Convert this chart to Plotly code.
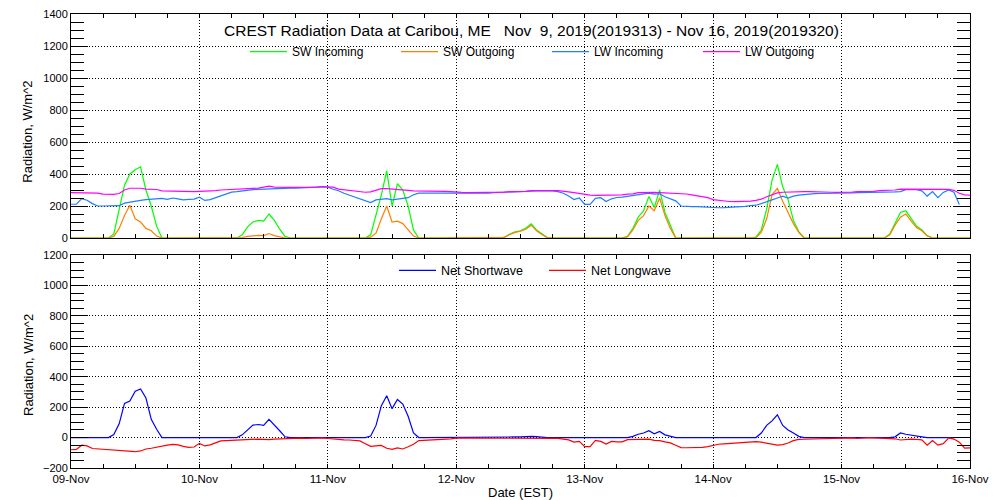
import plotly.graph_objects as go

# ---------------- data (hourly, 2019-11-09 00:00 .. 2019-11-16 00:00 EST) ----------------
start_day = 9
n_hours = 169
times = [f"2019-11-{start_day + h // 24:02d} {h % 24:02d}:00" for h in range(n_hours)]

day_ticks = ["2019-11-09", "2019-11-10", "2019-11-11", "2019-11-12",
             "2019-11-13", "2019-11-14", "2019-11-15", "2019-11-16"]
day_labels = ["09-Nov", "10-Nov", "11-Nov", "12-Nov", "13-Nov", "14-Nov", "15-Nov", "16-Nov"]

sw_incoming = (
    [0, 0, 0, 0, 0, 0, 0, 0, 25, 170, 330, 400, 427, 445, 300, 200, 74, 0, 0, 0, 0, 0, 0, 0]
    + [0, 0, 0, 0, 0, 0, 0, 0, 20, 70, 100, 110, 105, 150, 110, 55, 10, 0, 0, 0, 0, 0, 0, 0]
    + [0, 0, 0, 0, 0, 0, 0, 0, 20, 140, 270, 420, 200, 340, 300, 200, 50, 0, 0, 0, 0, 0, 0, 0]
    + [0, 0, 0, 0, 0, 0, 0, 0, 0, 5, 25, 38, 45, 62, 88, 50, 25, 3, 0, 0, 0, 0, 0, 0]
    + [0, 0, 0, 0, 0, 0, 0, 0, 10, 60, 130, 170, 260, 190, 300, 160, 80, 0, 0, 0, 0, 0, 0, 0]
    + [0, 0, 0, 0, 0, 0, 0, 0, 5, 50, 180, 360, 460, 320, 240, 110, 40, 0, 0, 0, 0, 0, 0, 0]
    + [0, 0, 0, 0, 0, 0, 0, 0, 0, 25, 90, 160, 170, 120, 75, 50, 15, 0, 0, 0, 0, 0, 0, 0]
    + [0]
)

sw_outgoing = (
    [0, 0, 0, 0, 0, 0, 0, 0, 10, 60, 140, 205, 120, 100, 60, 45, 12, 0, 0, 0, 0, 0, 0, 0]
    + [0, 0, 0, 0, 0, 0, 0, 0, 3, 10, 15, 16, 15, 28, 15, 8, 0, 0, 0, 0, 0, 0, 0, 0]
    + [0, 0, 0, 0, 0, 0, 0, 0, 5, 30, 120, 200, 100, 105, 90, 50, 12, 0, 0, 0, 0, 0, 0, 0]
    + [0, 0, 0, 0, 0, 0, 0, 0, 0, 4, 22, 35, 42, 55, 80, 45, 22, 2, 0, 0, 0, 0, 0, 0]
    + [0, 0, 0, 0, 0, 0, 0, 0, 8, 50, 110, 140, 200, 170, 250, 140, 60, 0, 0, 0, 0, 0, 0, 0]
    + [0, 0, 0, 0, 0, 0, 0, 0, 2, 35, 120, 270, 310, 230, 160, 90, 35, 0, 0, 0, 0, 0, 0, 0]
    + [0, 0, 0, 0, 0, 0, 0, 0, 0, 20, 80, 130, 150, 105, 65, 45, 12, 0, 0, 0, 0, 0, 0, 0]
    + [0]
)

lw_incoming = (
    [211, 211, 246, 236, 215, 200, 200, 200, 200, 202, 218, 225, 232, 235, 240, 243, 246, 248, 242, 250, 245, 238, 242, 243]
    + [255, 235, 240, 252, 262, 275, 287, 290, 295, 298, 302, 304, 306, 308, 310, 310, 311, 312, 312, 313, 312, 314, 318, 320]
    + [318, 305, 295, 280, 268, 255, 245, 235, 222, 238, 244, 246, 238, 244, 248, 252, 270, 280, 280, 280, 281, 281, 282, 282]
    + [280, 280, 280, 279, 278, 279, 281, 284, 286, 287, 289, 289, 290, 291, 294, 295, 295, 295, 295, 290, 280, 262, 240, 250]
    + [210, 210, 248, 252, 228, 245, 253, 256, 260, 265, 270, 272, 280, 274, 276, 258, 245, 232, 200, 196, 196, 196, 194, 190]
    + [189, 189, 190, 191, 194, 196, 198, 202, 205, 215, 225, 238, 250, 262, 250, 262, 268, 272, 275, 277, 278, 278, 280, 282]
    + [279, 280, 282, 284, 284, 284, 284, 285, 286, 286, 288, 290, 302, 302, 302, 295, 262, 290, 252, 285, 300, 286, 210, None]
    + [None]
)

lw_outgoing = (
    [284, 284, 284, 284, 282, 280, 274, 273, 273, 278, 300, 311, 311, 311, 305, 305, 303, 295, 294, 292, 290, 290, 290, 290]
    + [292, 292, 294, 296, 300, 301, 302, 303, 305, 308, 310, 312, 318, 324, 318, 316, 316, 316, 316, 316, 316, 317, 318, 322]
    + [322, 318, 306, 302, 298, 294, 290, 286, 288, 300, 308, 308, 306, 306, 304, 298, 295, 295, 295, 294, 294, 294, 292, 290]
    + [286, 285, 284, 284, 284, 284, 285, 285, 285, 287, 290, 290, 291, 292, 296, 297, 297, 297, 297, 296, 290, 288, 284, 278]
    + [270, 268, 267, 267, 267, 267, 268, 270, 274, 276, 283, 285, 285, 285, 284, 283, 282, 280, 278, 275, 270, 265, 258, 252]
    + [240, 235, 230, 228, 227, 227, 228, 230, 235, 243, 258, 270, 282, 286, 288, 290, 290, 290, 290, 290, 289, 288, 286, 285]
    + [285, 285, 287, 290, 290, 290, 291, 296, 297, 297, 300, 306, 306, 306, 306, 306, 306, 306, 306, 306, 304, 298, 280, 270]
    + [268]
)

net_shortwave = (
    [0, 0, 0, 0, 0, 0, 0, 0, 20, 90, 225, 240, 305, 320, 260, 120, 55, 0, 0, 0, 0, 0, 0, 0]
    + [0, 0, 0, 0, 0, 0, 0, 0, 18, 50, 82, 86, 80, 120, 85, 45, 5, 0, 0, 0, 0, 0, 0, 0]
    + [0, 0, 0, 0, 0, 0, 0, 0, 10, 80, 210, 275, 190, 250, 220, 140, 30, 0, 0, 0, 0, 0, 0, 0]
    + [0, 0, 0, 0, 0, 0, 0, 0, 0, 0, 3, 4, 5, 8, 8, 6, 2, 0, 0, 0, 0, 0, 0, 0]
    + [0, 0, 0, 0, 0, 0, 0, 0, 0, 8, 22, 30, 45, 25, 40, 18, 10, 0, 0, 0, 0, 0, 0, 0]
    + [0, 0, 0, 0, 0, 0, 0, 0, 0, 30, 80, 110, 150, 80, 50, 30, 8, 0, 0, 0, 0, 0, 0, 0]
    + [0, 0, 0, 0, 0, 0, 0, 0, 0, 0, 5, 30, 22, 15, 8, 5, 0, 0, 0, 0, 0, 0, None, None]
    + [None]
)

net_longwave = (
    [-80, -78, -50, -55, -72, -75, -75, -76, -80, -85, -88, -92, -93, -88, -75, -70, -62, -55, -50, -45, -48, -58, -65, -62]
    + [-38, -55, -48, -35, -22, -20, -18, -17, -14, -12, -10, -10, -12, -14, -10, -8, -6, -5, -5, -4, -6, -4, -2, -2]
    + [-6, -10, -14, -15, -16, -18, -22, -40, -58, -55, -52, -70, -78, -68, -75, -60, -44, -20, -18, -18, -17, -16, -14, -8]
    + [-4, -4, -3, -3, -4, -4, -3, -3, -2, -2, -2, -2, -2, -2, -2, -2, -2, -2, -2, -5, -10, -15, -30, -25]
    + [-60, -60, -18, -25, -42, -25, -28, -28, -14, -12, -12, -12, -10, -18, -20, -28, -35, -50, -66, -67, -67, -66, -64, -60]
    + [-50, -44, -42, -40, -36, -33, -32, -30, -26, -30, -38, -46, -50, -46, -36, -20, -12, -11, -10, -10, -8, -5, -4, -3]
    + [-3, -2, -2, -6, -2, -1, -2, -3, -4, -4, -8, -16, -12, -10, -12, -15, -50, -20, -50, -40, -3, -10, -30, -70]
    + [-68]
)

title_text = ("CREST Radiation Data at Caribou, ME\u00a0\u00a0\u00a0Nov\u00a0\u00a09, 2019(2019313)"
              " - Nov 16, 2019(2019320)")
y_title = "Radiation, W/m^2"
x_title = "Date (EST)"

# ---------------- figure ----------------
FONT = "Liberation Sans, Arial, sans-serif"
fig = go.Figure()

top_series = [
    ("SW Incoming", sw_incoming, "#00FF00"),
    ("SW Outgoing", sw_outgoing, "#FF8000"),
    ("LW Incoming", lw_incoming, "#1E7FFF"),
    ("LW Outgoing", lw_outgoing, "#FF00FF"),
]
for name, vals, col in top_series:
    fig.add_trace(go.Scatter(x=times, y=vals, name=name, mode="lines",
                             line=dict(color=col, width=1.2), xaxis="x", yaxis="y",
                             legend="legend", connectgaps=False))

bottom_series = [
    ("Net Shortwave", net_shortwave, "#0000FF"),
    ("Net Longwave", net_longwave, "#FF0000"),
]
for name, vals, col in bottom_series:
    fig.add_trace(go.Scatter(x=times, y=vals, name=name, mode="lines",
                             line=dict(color=col, width=1.2), xaxis="x2", yaxis="y2",
                             legend="legend2", connectgaps=False))

W, H = 1000, 500
x_dom = [71 / W, 970 / W]
top_dom = [(H - 238) / H, (H - 14) / H]
bot_dom = [(H - 468) / H, (H - 255) / H]

grid_common = dict(showgrid=True, gridcolor="black", gridwidth=1, griddash="1px,2px",
                   showline=True, linecolor="black", linewidth=1, mirror="ticks",
                   ticks="inside", tickcolor="black", tickwidth=1, zeroline=False,
                   automargin=False)

xaxis_common = dict(type="date", range=[day_ticks[0], day_ticks[-1]],
                    tickmode="array", tickvals=day_ticks, ticktext=day_labels,
                    ticklen=4,
                    minor=dict(dtick=6 * 3600 * 1000, tick0=day_ticks[0], ticks="inside",
                               ticklen=4, tickcolor="black", showgrid=False),
                    domain=x_dom, tickfont=dict(family=FONT, size=11.5, color="black"),
                    **grid_common)

yaxis_common = dict(dtick=200, ticklen=17,
                    minor=dict(dtick=50, ticks="inside", ticklen=13, tickcolor="black",
                               showgrid=False),
                    tickfont=dict(family=FONT, size=11, color="black"),
                    **grid_common)

fig.update_layout(
    width=W, height=H,
    margin=dict(l=0, r=0, t=0, b=0, autoexpand=False),
    paper_bgcolor="white", plot_bgcolor="white",
    font=dict(family=FONT, color="black"),
    xaxis=dict(anchor="y", showticklabels=False, **xaxis_common),
    xaxis2=dict(anchor="y2", showticklabels=True, ticklabelstandoff=0, **xaxis_common),
    yaxis=dict(anchor="x", domain=top_dom, range=[0, 1400], **yaxis_common),
    yaxis2=dict(anchor="x2", domain=bot_dom, range=[-200, 1200], **yaxis_common),
    legend=dict(orientation="h", x=0.245, y=(H - 51.7) / H, xanchor="left", yanchor="middle",
                entrywidth=99, entrywidthmode="pixels", itemwidth=37,
                bgcolor="rgba(0,0,0,0)", font=dict(family=FONT, size=12, color="black")),
    legend2=dict(orientation="h", x=0.394, y=(H - 270.7) / H, xanchor="left", yanchor="middle",
                 entrywidth=98, entrywidthmode="pixels", itemwidth=37,
                 bgcolor="rgba(0,0,0,0)", font=dict(family=FONT, size=12.5, color="black")),
    showlegend=True,
)

fig.add_annotation(text=title_text, x=531 / W, y=(H - 30.7) / H, xref="paper", yref="paper",
                   xanchor="center", yanchor="middle", showarrow=False,
                   font=dict(family=FONT, size=15.5, color="black"))
fig.add_annotation(text=y_title, x=28 / W, y=(H - 131.7) / H, xref="paper", yref="paper",
                   xanchor="center", yanchor="middle", textangle=-90, showarrow=False,
                   font=dict(family=FONT, size=13, color="black"))
fig.add_annotation(text=y_title, x=28 / W, y=(H - 365) / H, xref="paper", yref="paper",
                   xanchor="center", yanchor="middle", textangle=-90, showarrow=False,
                   font=dict(family=FONT, size=13, color="black"))
fig.add_annotation(text=x_title, x=520 / W, y=(H - 492) / H, xref="paper", yref="paper",
                   xanchor="center", yanchor="middle", showarrow=False,
                   font=dict(family=FONT, size=13, color="black"))

fig.write_html("out.html",
               config={"displayModeBar": False},
               post_script="document.body.style.margin='0px';"
                           "document.body.style.overflow='hidden';")
